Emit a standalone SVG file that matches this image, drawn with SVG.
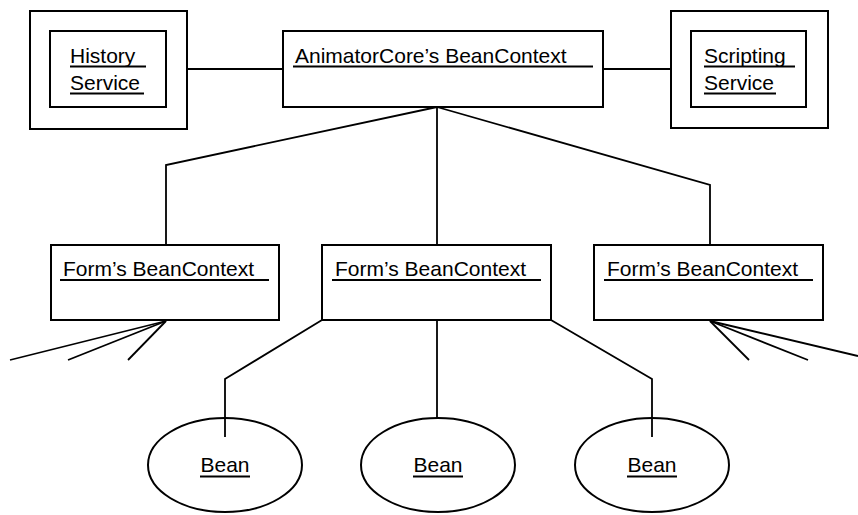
<svg xmlns="http://www.w3.org/2000/svg" width="858" height="515" viewBox="0 0 858 515">
  <style>
    .box { fill: #fff; stroke: #000; stroke-width: 2; }
    .wire { fill: none; stroke: #000; stroke-width: 1.8; }
    .ul { stroke: #000; stroke-width: 2; }
    .lbl { font-family: "Liberation Sans", Arial, sans-serif; font-size: 21px; fill: #000; }
    .mid { text-anchor: middle; }
  </style>
  <rect width="858" height="515" fill="#fff"/>

  <!-- connectors -->
  <g id="connectors" class="wire">
    <line x1="166" y1="69" x2="283" y2="69"/>
    <line x1="603" y1="69" x2="691" y2="69"/>
    <polyline points="437,107 166,165 166,245"/>
    <line x1="437" y1="107" x2="437" y2="245"/>
    <polyline points="437,107 710,185 710,245"/>
    <line x1="166" y1="321" x2="10" y2="360"/>
    <line x1="166" y1="321" x2="68" y2="360"/>
    <line x1="166" y1="321" x2="128" y2="360"/>
    <line x1="710" y1="321" x2="749" y2="360"/>
    <line x1="710" y1="321" x2="808" y2="360"/>
    <line x1="710" y1="321" x2="858" y2="356"/>
    <polyline points="322,320 225,379 225,437"/>
    <line x1="437" y1="320" x2="437" y2="419"/>
    <polyline points="551,320 652,379 652,437"/>
  </g>

  <g id="history-service">
    <rect class="box" x="30" y="11" width="157" height="118"/>
    <rect class="box" x="50" y="31" width="116" height="76"/>
    <text class="lbl" x="70" y="62.5">History</text>
    <text class="lbl" x="70" y="90">Service</text>
    <line class="ul" x1="70" y1="66.5" x2="146" y2="66.5"/>
    <line class="ul" x1="70" y1="93.5" x2="144" y2="93.5"/>
  </g>

  <g id="animator-context">
    <rect class="box" x="283" y="31" width="320" height="76"/>
    <text class="lbl" x="295" y="62.5">AnimatorCore’s BeanContext</text>
    <line class="ul" x1="293" y1="66.5" x2="593" y2="66.5"/>
  </g>

  <g id="scripting-service">
    <rect class="box" x="671" y="11" width="157" height="117"/>
    <rect class="box" x="691" y="31" width="115" height="76"/>
    <text class="lbl" x="704" y="62.5">Scripting</text>
    <text class="lbl" x="704" y="90">Service</text>
    <line class="ul" x1="704" y1="66.5" x2="795" y2="66.5"/>
    <line class="ul" x1="704" y1="93.5" x2="776" y2="93.5"/>
  </g>

  <g id="form-context-left">
    <rect class="box" x="51" y="245" width="228" height="75"/>
    <text class="lbl" x="63" y="276">Form’s BeanContext</text>
    <line class="ul" x1="60" y1="280" x2="269" y2="280"/>
  </g>

  <g id="form-context-middle">
    <rect class="box" x="322" y="245" width="229" height="75"/>
    <text class="lbl" x="335" y="276">Form’s BeanContext</text>
    <line class="ul" x1="332" y1="280" x2="541" y2="280"/>
  </g>

  <g id="form-context-right">
    <rect class="box" x="594" y="245" width="229" height="75"/>
    <text class="lbl" x="607" y="276">Form’s BeanContext</text>
    <line class="ul" x1="604" y1="280" x2="813" y2="280"/>
  </g>

  <!-- beans: the outer connectors run into the ellipse, so the ellipses stay unfilled -->
  <g id="bean-left">
    <ellipse cx="225" cy="465" rx="77" ry="47" fill="none" stroke="#000" stroke-width="2"/>
    <text class="lbl mid" x="225" y="472">Bean</text>
    <line class="ul" x1="200" y1="476.5" x2="250" y2="476.5"/>
  </g>

  <g id="bean-middle">
    <ellipse cx="438" cy="465" rx="77" ry="47" fill="none" stroke="#000" stroke-width="2"/>
    <text class="lbl mid" x="438" y="472">Bean</text>
    <line class="ul" x1="413" y1="476.5" x2="463" y2="476.5"/>
  </g>

  <g id="bean-right">
    <ellipse cx="652" cy="465" rx="77" ry="47" fill="none" stroke="#000" stroke-width="2"/>
    <text class="lbl mid" x="652" y="472">Bean</text>
    <line class="ul" x1="627" y1="476.5" x2="677" y2="476.5"/>
  </g>
</svg>
